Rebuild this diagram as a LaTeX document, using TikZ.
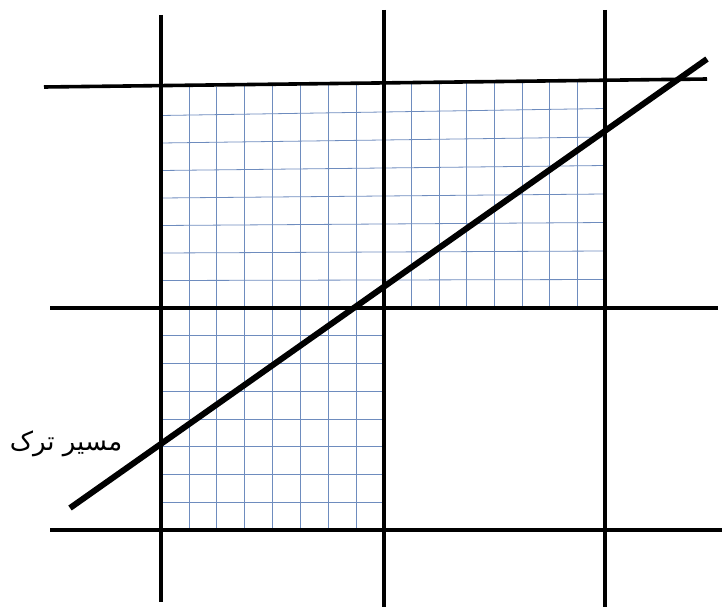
\documentclass[tikz,border=0pt]{standalone}
\usepackage{fontspec}
\newfontfamily\arabicfont[Script=Arabic]{DejaVu Sans}
\TeXXeTstate=1
\definecolor{gridblue}{RGB}{110,140,190}

\begin{document}
\begin{tikzpicture}[
  x=1pt, y=-1pt,
  grid line/.style={draw=gridblue, line width=0.8pt},
  frame line/.style={draw=black, line width=3.6pt},
  crack line/.style={draw=black, line width=6pt},
  crack label/.style={font=\arabicfont\fontsize{26}{30}\selectfont, inner sep=0pt}
]
\useasboundingbox (0,0) rectangle (722,610);

% Fine mesh, upper band
\foreach \i in {1,...,7}
  \draw[grid line] (161,{88+27.5*\i}) -- (605,{80+28.5*\i});
\foreach \k in {1,...,7}{
  \draw[grid line] ({161+27.9*\k},{88-8*(27.9*\k)/444}) -- ({161+27.9*\k},308);
  \draw[grid line] ({384+27.6*\k},{84-8*(27.6*\k)/444}) -- ({384+27.6*\k},308);
}
% Fine mesh, lower left block
\foreach \i in {1,...,7}
  \draw[grid line] (161,{308+27.75*\i}) -- (384,{308+27.75*\i});
\foreach \k in {1,...,7}
  \draw[grid line] ({161+27.9*\k},308) -- ({161+27.9*\k},530);

% Coordinates of the frame
\coordinate (top W) at (44,87);
\coordinate (top E) at (707,79);
\coordinate (mid W) at (50,308);
\coordinate (mid E) at (718,308);
\coordinate (bot W) at (50,530);
\coordinate (bot E) at (722,530);
\coordinate (left N) at (161,15);
\coordinate (left S) at (161,602);
\coordinate (centre N) at (384,10);
\coordinate (centre S) at (384,607);
\coordinate (right N) at (605,10);
\coordinate (right S) at (605,607);
\coordinate (crack S) at (70,508);
\coordinate (crack N) at (707,59);

% Frame lines
\draw[frame line] (top W) -- (top E);
\draw[frame line] (mid W) -- (mid E);
\draw[frame line] (bot W) -- (bot E);
\draw[frame line] (left N) -- (left S);
\draw[frame line] (centre N) -- (centre S);
\draw[frame line] (right N) -- (right S);

% Crack path
\draw[crack line] (crack S) -- (crack N);
\node[crack label] (crack text) at (66,444) {\beginR مسیر ترک\endR};
\end{tikzpicture}
\end{document}
